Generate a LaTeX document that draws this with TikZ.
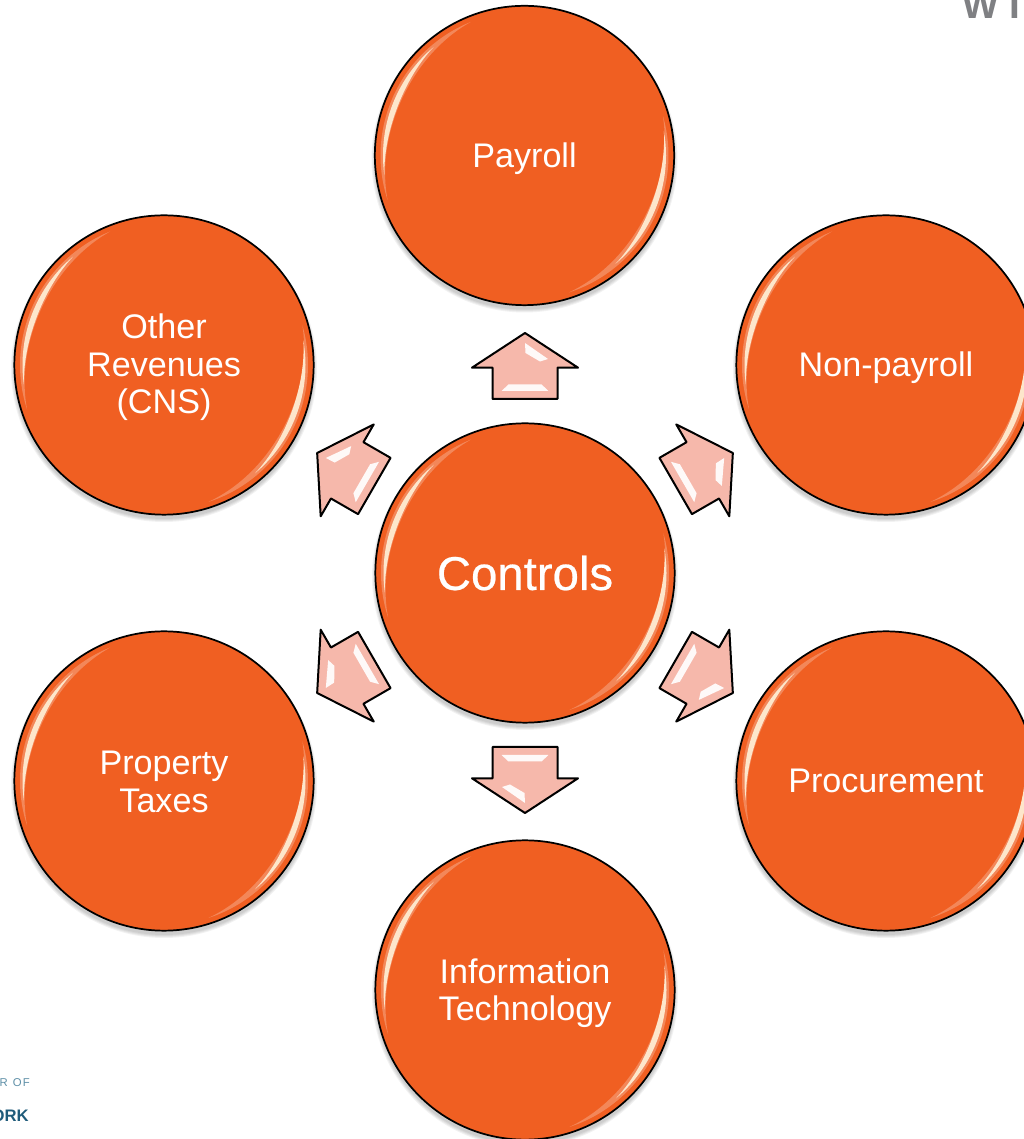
\documentclass[tikz,border=0pt]{standalone}
\usepackage{fontspec}
\setmainfont{Liberation Sans}
\newfontfamily\heavyfont[FakeBold=0.5]{Liberation Sans}
\usetikzlibrary{shapes.arrows}
\definecolor{beadOrange}{HTML}{F05F22}
\definecolor{beadEdge}{HTML}{F38D63}
\definecolor{arrowPink}{HTML}{F6B8AB}
\definecolor{beadGlow}{HTML}{FFF1D8}
\definecolor{titleGray}{HTML}{7F8083}
\definecolor{logoLight}{HTML}{5F90A8}
\definecolor{logoDark}{HTML}{1F5B7A}
\pgfdeclareradialshading{bead}{\pgfpointorigin}{
  color(0bp)=(beadOrange);
  color(46bp)=(beadOrange);
  color(48.5bp)=(beadEdge);
  color(50bp)=(beadEdge)}
\tikzset{
  x=0.75pt,y=0.75pt,
  beadnode/.style={circle,draw=black,line width=1.3pt,shading=bead,minimum size=224.5pt,
    inner sep=0pt,outer sep=0pt},
  beadtext/.style={inner sep=0pt,align=center,text=white,font=\fontsize{25.6}{28}\selectfont},
  blockarrow/.style={single arrow,draw=black,fill=arrowPink,line width=1.5pt,line join=round,
    minimum height=49.5pt,minimum width=78pt,single arrow head extend=15.4pt,
    single arrow tip angle=113.6,inner sep=0pt,outer sep=0pt,text height=47.25pt,text depth=0pt,
    text width=1pt,anchor=tail,rotate=90},
  gleam/.style={fill=white,opacity=.92},
  softgleam/.style={fill=white,opacity=.25}
}
% start, end, radius, thickness, style (drawn about the current origin)
\newcommand{\crescent}[5]{%
  \fill[#5] plot[domain=#1:#2,samples=25,smooth] ({#3*cos(\x)},{#3*sin(\x)})
    -- plot[domain=#2:#1,samples=25,smooth]
      ({(#3-#4*sin(180*(\x-(#1))/((#2)-(#1))))*cos(\x)},{(#3-#4*sin(180*(\x-(#1))/((#2)-(#1))))*sin(\x)})
    -- cycle;}
\begin{document}
\begin{tikzpicture}
\useasboundingbox (0,0) rectangle (1024,1139);
\clip (0,0) rectangle (1024,1139);
\fill[white] (0,0) rectangle (1024,1139);
% corner fragments
\node[anchor=base west,inner sep=0pt,text=titleGray,font=\fontsize{29}{29}\selectfont\bfseries] (title) at (962,1120) {W\hspace{8pt}I};
\node[anchor=base east,inner sep=0pt,text=logoLight,font=\fontsize{8.5}{8.5}\selectfont] (logoa) at (30,52) {R\hspace{1.5pt} O\hspace{.8pt}F};
\node[anchor=base east,inner sep=0pt,text=logoDark,font=\fontsize{12.5}{12.5}\selectfont\bfseries] (logob) at (29,17) {ORK};
% soft shadows
\foreach \x/\y in {524.5/983.5,886/774,164/774,525/566,164/358,886/358,525/149}{
  \foreach \r in {153,152,151,150}{
    \fill[black,opacity=.05] (\x,\y-4) circle[radius=\r];
  }
}
% circles
\foreach \n/\x/\y in {payroll/524.5/983.5,nonpayroll/886/774,revenues/164/774,
  property/164/358,procurement/886/358,technology/525/149,controls/525/566}{
  \node[beadnode] (\n) at (\x,\y) {};
  \begin{scope}[shift={(\n.center)}]
    \crescent{112}{198}{144}{9}{softgleam}
    \crescent{130}{188}{141.5}{5.5}{fill=beadGlow,opacity=.9}
    \crescent{-72}{16}{144}{9}{softgleam}
    \crescent{-50}{10}{141.5}{5.5}{fill=beadGlow,opacity=.9}
  \end{scope}
}
% labels
\node[beadtext,yshift=-2.25pt] (payrolltext) at (payroll.center) {Payroll};
\node[beadtext,yshift=-2pt] (nonpayrolltext) at (nonpayroll.center) {Non-payroll};
\node[beadtext,yshift=-1.8pt] (revenuestext) at (revenues.center) {Other\\Revenues\\(CNS)};
\node[beadtext,yshift=-0.6pt] (propertytext) at (property.center) {Property\\Taxes};
\node[beadtext] (procurementtext) at (procurement.center) {Procurement};
\node[beadtext,yshift=-2.4pt] (technologytext) at (technology.center) {Information\\Technology};
\node[beadtext,font=\fontsize{35.5}{38}\heavyfont] (controlstext) at (controls.center) {Controls};
% arrows
\foreach \a/\n in {0/up,-60/upright,-120/downright,180/down,120/downleft,60/upleft}{
  \begin{scope}[rotate around={\a:(525,566)},transform shape]
    \node[blockarrow] (arrow\n) at (525,740) {};
    \fill[gleam] (525,796) -- (548,780) -- (540,777.5) -- (525.5,786) -- cycle;
    \fill[gleam] (508.3,754.5) -- (541.7,754.5) -- (548.3,748) -- (501.7,748) -- cycle;
  \end{scope}
}
\end{tikzpicture}
\end{document}
